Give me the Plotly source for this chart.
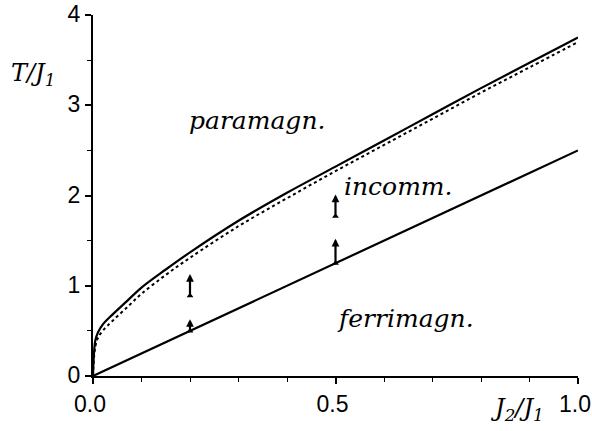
import plotly.graph_objects as go

# Phase boundaries T/J1 versus J2/J1
j_ratio = [0.0, 0.002, 0.005, 0.01, 0.02, 0.04, 0.07, 0.1, 0.15, 0.2,
           0.3, 0.4, 0.5, 0.6, 0.7, 0.8, 0.9, 1.0]
t_para = [0.0, 0.25, 0.40, 0.48, 0.57, 0.68, 0.83, 0.98, 1.18, 1.37,
          1.72, 2.03, 2.32, 2.61, 2.90, 3.19, 3.47, 3.75]
t_para_alt = [0.0, 0.20, 0.33, 0.42, 0.50, 0.61, 0.76, 0.91, 1.12, 1.31,
              1.66, 1.97, 2.27, 2.56, 2.85, 3.14, 3.42, 3.70]
ferri_x = [0.0, 1.0]
ferri_t = [0.0, 2.5]

# Bounds shown as arrows (from lower value up to upper value)
arrow_x = [0.2, 0.2, 0.5, 0.5]
arrow_lo = [0.50, 0.89, 1.25, 1.77]
arrow_hi = [0.63, 1.13, 1.52, 2.01]

# Region labels
region_names = ["paramagn.", "incomm.", "ferrimagn."]
region_x = [0.338, 0.63, 0.645]
region_y = [2.83, 2.10, 0.64]

x_ticks = [0.0, 0.5, 1.0]
x_tick_text = ["0.0", "0.5", "1.0"]
y_ticks = [0, 1, 2, 3, 4]

fig = go.Figure()
fig.add_trace(go.Scatter(x=j_ratio, y=t_para, mode="lines",
                         line=dict(color="black", width=2.2, shape="spline"),
                         showlegend=False))
fig.add_trace(go.Scatter(x=j_ratio, y=t_para_alt, mode="lines",
                         line=dict(color="black", width=2, dash="dot", shape="spline"),
                         showlegend=False))
fig.add_trace(go.Scatter(x=ferri_x, y=ferri_t, mode="lines",
                         line=dict(color="black", width=2.2),
                         showlegend=False))
# Base markers of the arrows
fig.add_trace(go.Scatter(x=arrow_x, y=arrow_lo, mode="markers",
                         marker=dict(symbol="triangle-up", size=6, color="black"),
                         showlegend=False))

for xv, lo, hi in zip(arrow_x, arrow_lo, arrow_hi):
    fig.add_annotation(x=xv, y=hi, ax=xv, ay=lo, xref="x", yref="y",
                       axref="x", ayref="y", text="", showarrow=True,
                       arrowhead=2, arrowsize=0.7, arrowwidth=2.2,
                       arrowcolor="black")

serif = "DejaVu Serif"
for name, xv, yv in zip(region_names, region_x, region_y):
    fig.add_annotation(x=xv, y=yv, xref="x", yref="y", text=f"<i>{name}</i>",
                       showarrow=False, xanchor="center", yanchor="middle",
                       font=dict(family=serif, size=25, color="black"))

fig.add_annotation(x=-0.124, y=0.835, xref="paper", yref="paper",
                   text="<i>T/J<sub>1</sub></i>", showarrow=False,
                   xanchor="center", yanchor="middle",
                   font=dict(family=serif, size=24, color="black"))
fig.add_annotation(x=0.874, y=-0.093, xref="paper", yref="paper",
                   text="<i>J<sub>2</sub>/J<sub>1</sub></i>", showarrow=False,
                   xanchor="center", yanchor="middle",
                   font=dict(family=serif, size=24, color="black"))

sans = "Liberation Sans"
axis_common = dict(showgrid=False, zeroline=False, showline=True,
                   linecolor="black", linewidth=2, ticks="outside",
                   ticklen=6, tickwidth=1.5, tickcolor="black",
                   automargin=False, ticklabeloverflow="allow",
                   tickfont=dict(family=sans, size=23, color="black"))
fig.update_layout(
    template="simple_white",
    width=592, height=431,
    margin=dict(l=93, r=14, t=15, b=55),
    paper_bgcolor="white", plot_bgcolor="white",
    xaxis=dict(range=[0, 1], tickvals=x_ticks, ticktext=x_tick_text,
               ticklabelshift=-3,
               minor=dict(dtick=0.1, ticks="outside", ticklen=4,
                          tickcolor="black", tickwidth=1),
               **axis_common),
    yaxis=dict(range=[0, 4], tickvals=y_ticks, ticklabelshift=-1,
               minor=dict(dtick=0.5, ticks="outside", ticklen=4,
                          tickcolor="black", tickwidth=1),
               **axis_common),
)

fig.write_html("out.html")
